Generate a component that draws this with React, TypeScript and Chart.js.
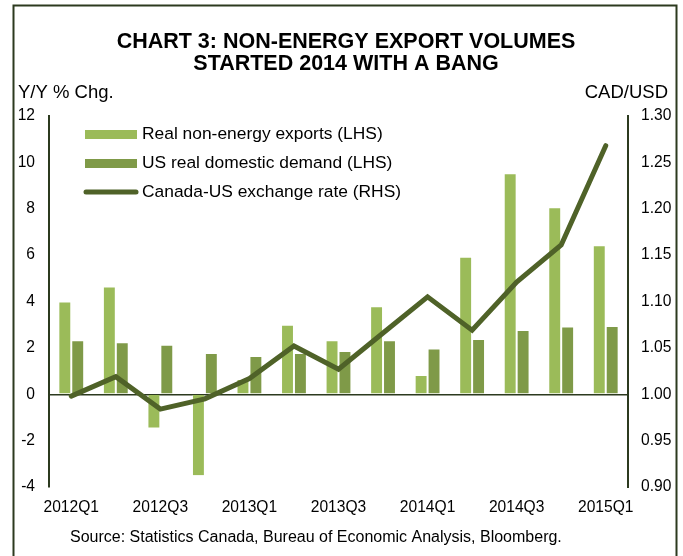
import React, { useEffect, useRef } from "react";
import { Chart, registerables } from "chart.js";

Chart.register(...registerables);

const categories = [
  "2012Q1", "2012Q2", "2012Q3", "2012Q4",
  "2013Q1", "2013Q2", "2013Q3", "2013Q4",
  "2014Q1", "2014Q2", "2014Q3", "2014Q4",
  "2015Q1",
];
const realNonEnergyExports = [4.0, 4.65, -1.48, -3.53, 0.66, 3.0, 2.33, 3.8, 0.83, 5.93, 9.53, 8.07, 6.43];
const usRealDomesticDemand = [2.33, 2.24, 2.14, 1.78, 1.65, 1.78, 1.87, 2.33, 1.97, 2.38, 2.77, 2.92, 2.94];
const cadUsdRate = [0.998, 1.019, 0.984, 0.995, 1.017, 1.052, 1.027, 1.066, 1.105, 1.069, 1.121, 1.161, 1.268];
const leftTicks = [-4, -2, 0, 2, 4, 6, 8, 10, 12];
const rightTicks = [0.9, 0.95, 1.0, 1.05, 1.1, 1.15, 1.2, 1.25, 1.3];

const titleLines = ["CHART 3: NON-ENERGY EXPORT VOLUMES", "STARTED 2014 WITH A BANG"];
const leftAxisTitle = "Y/Y % Chg.";
const rightAxisTitle = "CAD/USD";
const sourceText = "Source: Statistics Canada, Bureau of Economic Analysis, Bloomberg.";

const FONT = "'Liberation Sans', Arial, sans-serif";
const LIGHT = "#9bbb59";
const DARK = "#7f9a48";
const LINE = "#4f6228";
const AXIS = "#2c3a1f";

const decorPlugin = {
  id: "decor",
  beforeDraw(chart: any) {
    const ctx = chart.ctx;
    const h = chart.height;
    ctx.save();
    ctx.fillStyle = "#ffffff";
    ctx.fillRect(0, 0, chart.width, h);
    ctx.strokeStyle = AXIS;
    ctx.lineWidth = 2;
    ctx.beginPath();
    ctx.moveTo(13.5, h);
    ctx.lineTo(13.5, 5.5);
    ctx.lineTo(676.5, 5.5);
    ctx.lineTo(676.5, h);
    ctx.stroke();
    ctx.restore();
  },
  afterDraw(chart: any) {
    const ctx = chart.ctx;
    ctx.save();
    ctx.fillStyle = "#000000";
    ctx.textBaseline = "middle";
    // title
    ctx.font = `bold 21.5px ${FONT}`;
    ctx.textAlign = "center";
    ctx.fillText(titleLines[0], 346, 42);
    ctx.fillText(titleLines[1], 346, 64);
    // axis titles
    ctx.font = `18.5px ${FONT}`;
    ctx.textAlign = "left";
    ctx.fillText(leftAxisTitle, 18, 93);
    ctx.textAlign = "right";
    ctx.fillText(rightAxisTitle, 668, 93);
    // source
    ctx.font = `16px ${FONT}`;
    ctx.textAlign = "left";
    ctx.fillText(sourceText, 70, 538);
    // legend
    const ds = chart.data.datasets;
    const rows = [134.5, 163.5, 192];
    ctx.font = `17.4px ${FONT}`;
    ds.forEach((d: any, i: number) => {
      const y = rows[i];
      if (d.type === "line") {
        ctx.strokeStyle = d.borderColor;
        ctx.lineWidth = 5;
        ctx.lineCap = "round";
        ctx.beginPath();
        ctx.moveTo(86, y);
        ctx.lineTo(136, y);
        ctx.stroke();
      } else {
        ctx.fillStyle = d.backgroundColor;
        ctx.fillRect(85, y - 4.5, 52, 9);
      }
      ctx.fillStyle = "#000000";
      ctx.textAlign = "left";
      ctx.fillText(d.label, 142, y);
    });
    ctx.restore();
  },
};

export default function App() {
  const ref = useRef<HTMLCanvasElement | null>(null);
  useEffect(() => {
    if (!ref.current) return;
    const chart = new Chart(ref.current, {
      type: "bar",
      data: {
        labels: categories,
        datasets: [
          {
            type: "bar",
            label: "Real non-energy exports (LHS)",
            data: realNonEnergyExports,
            backgroundColor: LIGHT,
            borderColor: "rgba(255,255,255,0.25)",
            borderWidth: 1,
            yAxisID: "y",
            categoryPercentage: 0.58,
            barPercentage: 1.0,
            order: 1,
          },
          {
            type: "bar",
            label: "US real domestic demand (LHS)",
            data: usRealDomesticDemand,
            backgroundColor: DARK,
            borderColor: "rgba(255,255,255,0.2)",
            borderWidth: 1,
            yAxisID: "y",
            categoryPercentage: 0.58,
            barPercentage: 1.0,
            order: 2,
          },
          {
            type: "line",
            label: "Canada-US exchange rate (RHS)",
            data: cadUsdRate,
            borderColor: LINE,
            backgroundColor: LINE,
            borderWidth: 5,
            pointRadius: 0,
            tension: 0,
            borderCapStyle: "round",
            borderJoinStyle: "miter",
            yAxisID: "y1",
            order: 0,
          } as any,
        ],
      },
      options: {
        animation: false,
        responsive: false,
        maintainAspectRatio: false,
        layout: { padding: { top: 116, left: 0, right: 0, bottom: 0 } },
        plugins: {
          legend: { display: false },
          title: { display: false },
          tooltip: { enabled: false },
        },
        scales: {
          x: {
            type: "category",
            offset: true,
            grid: { display: false },
            border: { display: false },
            ticks: {
              autoSkip: false,
              maxRotation: 0,
              minRotation: 0,
              padding: 3,
              color: "#000000",
              font: { family: FONT, size: 15.6 },
              callback: (_v: any, i: number) => (i % 2 === 0 ? categories[i] : ""),
            },
            afterFit: (s: any) => {
              s.height = 69;
            },
          },
          y: {
            position: "left",
            min: leftTicks[0],
            max: leftTicks[leftTicks.length - 1],
            afterBuildTicks: (s: any) => {
              s.ticks = leftTicks.map((v) => ({ value: v }));
            },
            grid: {
              drawTicks: false,
              lineWidth: 1.5,
              color: (c: any) => (c.tick && c.tick.value === 0 ? AXIS : "rgba(0,0,0,0)"),
            },
            border: { display: true, color: AXIS, width: 2 },
            ticks: {
              padding: 14,
              color: "#000000",
              font: { family: FONT, size: 15.6 },
              callback: (v: any) => String(v),
            },
            afterFit: (s: any) => {
              s.width = 49;
            },
          },
          y1: {
            position: "right",
            min: rightTicks[0],
            max: rightTicks[rightTicks.length - 1],
            afterBuildTicks: (s: any) => {
              s.ticks = rightTicks.map((v) => ({ value: v }));
            },
            grid: { display: false, drawTicks: false },
            border: { display: true, color: AXIS, width: 2 },
            ticks: {
              padding: 13,
              color: "#000000",
              font: { family: FONT, size: 15.6 },
              callback: (v: any) => Number(v).toFixed(2),
            },
            afterFit: (s: any) => {
              s.width = 55;
            },
          },
        },
      } as any,
      plugins: [decorPlugin],
    });
    return () => chart.destroy();
  }, []);
  return (
    <div style={{ position: "absolute", left: 0, top: 0, width: 683, height: 556 }}>
      <canvas ref={ref} width={683} height={556} style={{ width: 683, height: 556, display: "block" }} />
    </div>
  );
}
